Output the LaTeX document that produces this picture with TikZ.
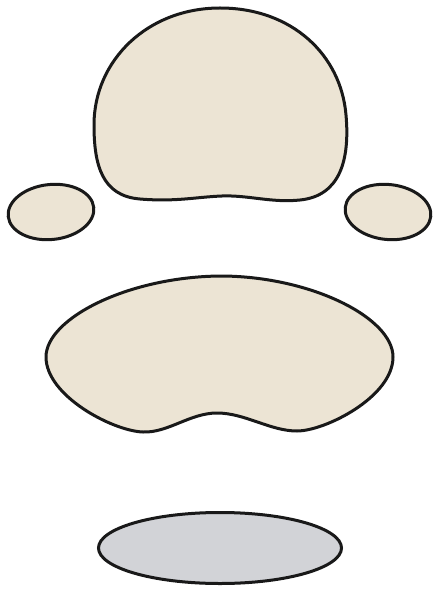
\documentclass[tikz,border=0pt]{standalone}
\usepackage{xcolor}
\usepackage{tikz}
\definecolor{be}{RGB}{236,228,212}
\definecolor{gs}{RGB}{210,211,215}
\definecolor{zw}{RGB}{25,25,25}
\tikzset{
  blob/.style={draw=zw,line width=3pt,fill=be,line join=round},
  schijf/.style={draw=zw,line width=3pt,fill=gs}
}
\begin{document}
\begin{tikzpicture}[x=1pt,y=-1pt]
  \useasboundingbox (0,0) rectangle (432,593);

  % top
  \draw[blob] (220,8) .. controls (292,8) and (341,55) .. (346,115)
    .. controls (350,160) and (340,196) .. (300,200)
    .. controls (272,203) and (248,195) .. (222,196)
    .. controls (196,197) and (176,202) .. (140,199)
    .. controls (102,196) and (94,165) .. (94,125)
    .. controls (94,60) and (148,8) .. cycle;

  % sides
  \draw[blob,rotate around={6:(51,212)}] (51,212) ellipse (43 and 27.5);
  \draw[blob,rotate around={-6:(388,212)}] (388,212) ellipse (43 and 27.5);

  % middle
  \draw[blob] (46,357) .. controls (46,318) and (130,276) .. (223,276)
    .. controls (312,277) and (393,318) .. (393,357)
    .. controls (393,397) and (325,431) .. (297,431)
    .. controls (270,431) and (245,413) .. (217,413)
    .. controls (190,413) and (168,433) .. (143,432)
    .. controls (113,431) and (46,396) .. cycle;

  % bottom
  \draw[schijf] (220,548) ellipse (121.5 and 35.5);
\end{tikzpicture}
\end{document}
